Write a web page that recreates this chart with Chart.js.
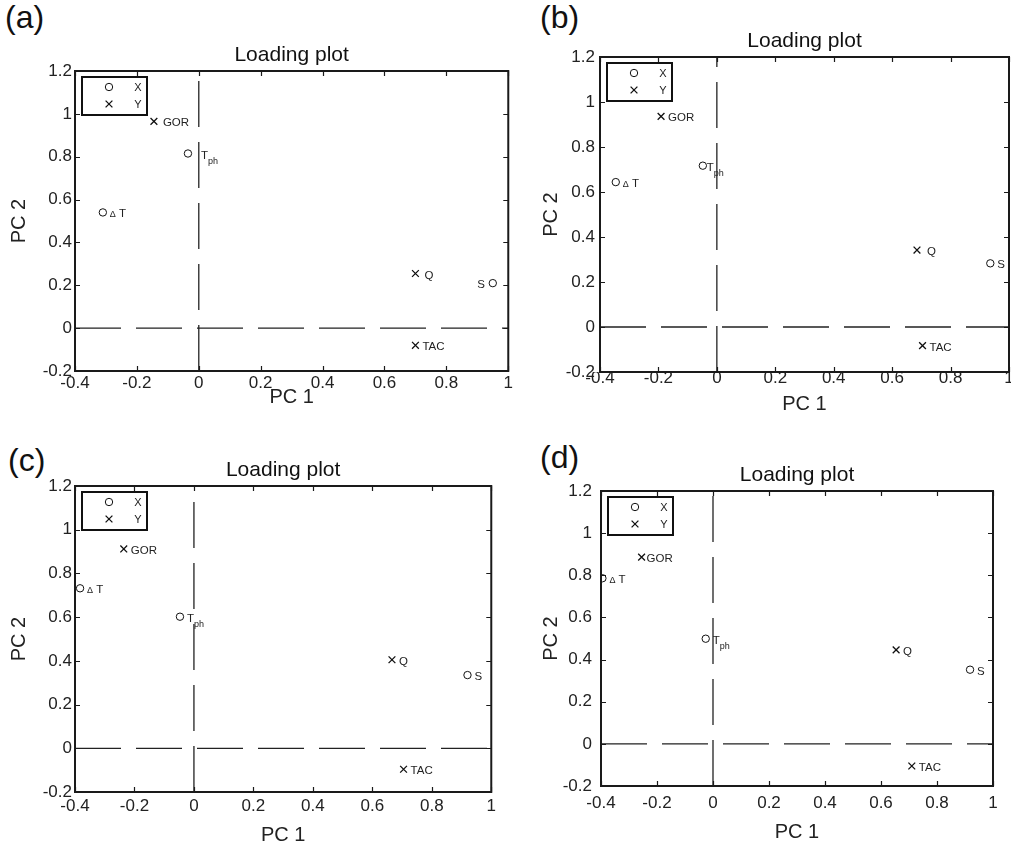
<!DOCTYPE html>
<html>
<head>
<meta charset="utf-8">
<script src="https://cdn.jsdelivr.net/npm/chart.js@4.4.0/dist/chart.umd.min.js"></script>
<style>
  body { margin: 0; background: #fff; }
  #wrap { position: relative; width: 1011px; height: 847px; overflow: hidden; }
  #wrap canvas { position: absolute; }
  .tag { position: absolute; font: 32px "Liberation Sans", Arial, Helvetica, sans-serif; line-height: 1; color: #111; }
</style>
</head>
<body>
<div id="wrap"></div>
<script>
// variable names: X block (circles) and Y block (crosses)
var varsX = ["ΔT", "T_ph", "S"];
var varsY = ["GOR", "Q", "TAC"];

var pc1Ticks = [-0.4, -0.2, 0, 0.2, 0.4, 0.6, 0.8, 1];
var pc2Ticks = [-0.2, 0, 0.2, 0.4, 0.6, 0.8, 1, 1.2];

// loadings, same order as varsX / varsY
var xPc1A = [-0.31, -0.035, 0.95];
var xPc2A = [0.54, 0.815, 0.21];
var yPc1A = [-0.145, 0.70, 0.70];
var yPc2A = [0.965, 0.255, -0.08];

var xPc1B = [-0.346, -0.048, 0.936];
var xPc2B = [0.644, 0.717, 0.283];
var yPc1B = [-0.191, 0.685, 0.704];
var yPc2B = [0.936, 0.342, -0.083];

var xPc1C = [-0.383, -0.047, 0.92];
var xPc2C = [0.732, 0.602, 0.335];
var yPc1C = [-0.236, 0.666, 0.705];
var yPc2C = [0.912, 0.405, -0.096];

var xPc1D = [-0.395, -0.026, 0.918];
var xPc2D = [0.786, 0.499, 0.352];
var yPc1D = [-0.255, 0.654, 0.71];
var yPc2D = [0.886, 0.446, -0.105];

var FONT = '"Liberation Sans", Arial, Helvetica, sans-serif';
var INK = "#111";

var panels = [
  { tag: "(a)", xPc1: xPc1A, xPc2: xPc2A, yPc1: yPc1A, yPc2: yPc2A,
    left: 0, top: 41, width: 515, height: 372, yAxisWidth: 75, xAxisHeight: 42, padRight: 6,
    yTitlePad: 7, xTitlePad: 4, xTickPad: 2, yTickPad: 3, tagX: 5, tagY: 1,
    moves: { S: { dx: -8, align: "right" }, T_ph: { dx: 13 }, GOR: { dx: 9 }, Q: { dx: 9 } } },
  { tag: "(b)", xPc1: xPc1B, xPc2: xPc2B, yPc1: yPc1B, yPc2: yPc2B,
    left: 515, top: 27, width: 496, height: 391, yAxisWidth: 85, xAxisHeight: 46, padRight: 2,
    yTitlePad: 24, xTitlePad: 2, xTickPad: -4, yTickPad: 5, tagX: 540, tagY: 1,
    moves: { T_ph: { dx: 4 }, Q: { dx: 10 } } },
  { tag: "(c)", xPc1: xPc1C, xPc2: xPc2C, yPc1: yPc1C, yPc2: yPc2C,
    left: 0, top: 456, width: 500, height: 391, yAxisWidth: 75, xAxisHeight: 55, padRight: 7,
    yTitlePad: 7, xTitlePad: 0, xTickPad: 4, yTickPad: 3, tagX: 8, tagY: 444,
    moves: {} },
  { tag: "(d)", xPc1: xPc1D, xPc2: xPc2D, yPc1: yPc1D, yPc2: yPc2D,
    left: 515, top: 461, width: 496, height: 385, yAxisWidth: 86, xAxisHeight: 60, padRight: 18,
    yTitlePad: 24, xTitlePad: 2, xTickPad: 7, yTickPad: 9, tagX: 540, tagY: 441,
    moves: { GOR: { dx: 5 } } }
];

function fmt(v) {
  return String(Math.round(v * 10) / 10);
}

function toPoints(xs, ys) {
  return xs.map(function (x, i) { return { x: x, y: ys[i] }; });
}

function drawCircle(ctx, x, y) {
  ctx.beginPath();
  ctx.arc(x, y, 3.7, 0, Math.PI * 2);
  ctx.stroke();
}

function drawCross(ctx, x, y) {
  var r = 3.4;
  ctx.beginPath();
  ctx.moveTo(x - r, y - r); ctx.lineTo(x + r, y + r);
  ctx.moveTo(x - r, y + r); ctx.lineTo(x + r, y - r);
  ctx.stroke();
}

// split a variable name into text runs (delta drawn small, "_" gives a subscript)
function labelRuns(name) {
  if (name.charAt(0) === "Δ") {
    return [{ t: "Δ", size: 9, shift: 0 }, { t: " " + name.slice(1), size: 11.5, shift: 0 }];
  }
  var parts = name.split("_");
  var runs = [{ t: parts[0], size: 11.5, shift: 0 }];
  if (parts[1]) runs.push({ t: parts[1], size: 9, shift: 5 });
  return runs;
}

function drawVarLabel(ctx, name, x, y, align) {
  var runs = labelRuns(name);
  var total = 0;
  runs.forEach(function (r) {
    ctx.font = r.size + "px " + FONT;
    r.w = ctx.measureText(r.t).width;
    total += r.w;
  });
  var cx = align === "right" ? x - total : x;
  ctx.textAlign = "left";
  ctx.textBaseline = "alphabetic";
  runs.forEach(function (r) {
    ctx.font = r.size + "px " + FONT;
    ctx.fillText(r.t, cx, y + 4 + r.shift);
    cx += r.w;
  });
}

// point names next to each marker
var varLabels = {
  id: "varLabels",
  afterDatasetsDraw: function (chart) {
    var ctx = chart.ctx;
    var moves = chart.options.plugins.varLabels.moves;
    ctx.save();
    ctx.fillStyle = "#222";
    [[0, varsX], [1, varsY]].forEach(function (pair) {
      var meta = chart.getDatasetMeta(pair[0]);
      meta.data.forEach(function (pt, i) {
        var name = pair[1][i];
        var m = moves[name] || {};
        var dx = m.dx !== undefined ? m.dx : 7;
        var dy = m.dy !== undefined ? m.dy : 1;
        drawVarLabel(ctx, name, pt.x + dx, pt.y + dy, m.align);
      });
    });
    ctx.restore();
  }
};

// box, inward ticks on all four sides, title and the X/Y key
var frame = {
  id: "frame",
  afterDraw: function (chart) {
    var ctx = chart.ctx;
    var a = chart.chartArea;
    var xs = chart.scales.x, ys = chart.scales.y;
    ctx.save();
    ctx.strokeStyle = "#1a1a1a";
    ctx.lineWidth = 1.2;
    ctx.beginPath();
    pc1Ticks.forEach(function (v) {
      var px = Math.round(xs.getPixelForValue(v)) + 0.5;
      ctx.moveTo(px, a.bottom); ctx.lineTo(px, a.bottom - 5);
      ctx.moveTo(px, a.top); ctx.lineTo(px, a.top + 5);
    });
    pc2Ticks.forEach(function (v) {
      var py = Math.round(ys.getPixelForValue(v)) + 0.5;
      ctx.moveTo(a.left, py); ctx.lineTo(a.left + 5, py);
      ctx.moveTo(a.right, py); ctx.lineTo(a.right - 5, py);
    });
    ctx.stroke();
    ctx.lineWidth = 2;
    ctx.strokeRect(a.left, a.top, a.right - a.left, a.bottom - a.top);

    ctx.fillStyle = INK;
    ctx.font = "21px " + FONT;
    ctx.textAlign = "center";
    ctx.textBaseline = "middle";
    ctx.fillText("Loading plot", (a.left + a.right) / 2, a.top - 16);

    // key
    var bx = a.left + 7, by = a.top + 6;
    ctx.fillStyle = "#fff";
    ctx.fillRect(bx, by, 65, 38);
    ctx.lineWidth = 2;
    ctx.strokeStyle = INK;
    ctx.strokeRect(bx, by, 65, 38);
    ctx.lineWidth = 1;
    drawCircle(ctx, bx + 27, by + 10);
    ctx.lineWidth = 1.3;
    drawCross(ctx, bx + 27, by + 27);
    ctx.fillStyle = "#222";
    ctx.font = "11px " + FONT;
    ctx.fillText(chart.data.datasets[0].label, bx + 56, by + 11);
    ctx.fillText(chart.data.datasets[1].label, bx + 56, by + 28);
    ctx.restore();
  }
};

var wrap = document.getElementById("wrap");

panels.forEach(function (p) {
  var tag = document.createElement("div");
  tag.className = "tag";
  tag.style.left = p.tagX + "px";
  tag.style.top = p.tagY + "px";
  tag.textContent = p.tag;
  wrap.appendChild(tag);

  var canvas = document.createElement("canvas");
  canvas.width = p.width;
  canvas.height = p.height;
  canvas.style.left = p.left + "px";
  canvas.style.top = p.top + "px";
  wrap.appendChild(canvas);

  new Chart(canvas.getContext("2d"), {
    type: "scatter",
    data: {
      datasets: [
        {
          label: "X",
          data: toPoints(p.xPc1, p.xPc2),
          pointStyle: "circle",
          pointRadius: 3.7,
          borderColor: INK,
          backgroundColor: "rgba(0,0,0,0)",
          borderWidth: 1
        },
        {
          label: "Y",
          data: toPoints(p.yPc1, p.yPc2),
          pointStyle: "crossRot",
          pointRadius: 4.8,
          borderColor: INK,
          borderWidth: 1.3
        },
        {
          label: "zero PC1",
          data: [{ x: 0, y: -0.2 }, { x: 0, y: 1.2 }],
          showLine: true,
          pointRadius: 0,
          borderColor: "#222",
          borderWidth: 1.3,
          borderDash: [46, 15]
        },
        {
          label: "zero PC2",
          data: [{ x: -0.4, y: 0 }, { x: 1, y: 0 }],
          showLine: true,
          pointRadius: 0,
          borderColor: "#222",
          borderWidth: 1.3,
          borderDash: [46, 15]
        }
      ]
    },
    options: {
      responsive: false,
      animation: false,
      events: [],
      layout: {
        autoPadding: false,
        padding: { left: 0, top: 30, right: p.padRight, bottom: 0 }
      },
      plugins: {
        legend: { display: false },
        tooltip: { enabled: false },
        varLabels: { moves: p.moves }
      },
      scales: {
        x: {
          type: "linear",
          min: -0.4,
          max: 1,
          afterBuildTicks: function (s) {
            s.ticks = pc1Ticks.map(function (v) { return { value: v }; });
          },
          afterFit: function (s) { s.height = p.xAxisHeight; },
          grid: { display: false, drawTicks: false },
          border: { display: false },
          ticks: {
            autoSkip: false,
            maxRotation: 0,
            padding: p.xTickPad,
            color: "#222",
            font: { family: FONT, size: 17 },
            callback: fmt
          },
          title: {
            display: true,
            text: "PC 1",
            color: "#222",
            font: { family: FONT, size: 20 },
            padding: { top: 0, bottom: p.xTitlePad }
          }
        },
        y: {
          type: "linear",
          min: -0.2,
          max: 1.2,
          afterBuildTicks: function (s) {
            s.ticks = pc2Ticks.map(function (v) { return { value: v }; });
          },
          afterFit: function (s) { s.width = p.yAxisWidth; },
          grid: { display: false, drawTicks: false },
          border: { display: false },
          ticks: {
            autoSkip: false,
            padding: p.yTickPad,
            color: "#222",
            font: { family: FONT, size: 17 },
            callback: fmt
          },
          title: {
            display: true,
            text: "PC 2",
            color: "#222",
            font: { family: FONT, size: 20 },
            padding: { top: p.yTitlePad, bottom: 0 }
          }
        }
      }
    },
    plugins: [varLabels, frame]
  });
});
</script>
</body>
</html>
